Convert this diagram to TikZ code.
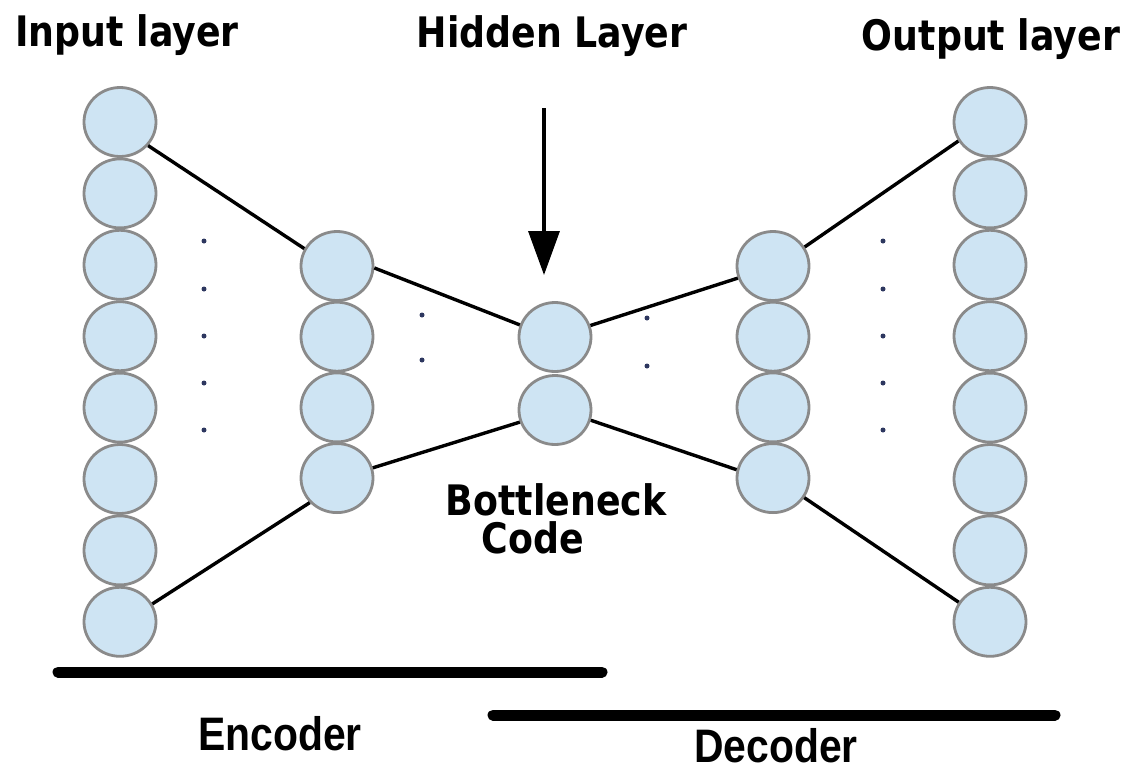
\documentclass[tikz,border=0pt]{standalone}
\usepackage{fontspec}
\usetikzlibrary{shapes.geometric,arrows.meta}
\newfontfamily\titlefont{DejaVu Sans}[FakeStretch=0.865]
\newfontfamily\partfont{Liberation Sans}[FakeStretch=0.87]
\definecolor{unitfill}{RGB}{206,228,243}
\definecolor{unitdraw}{RGB}{138,138,138}
\definecolor{dotcol}{RGB}{45,55,95}
\tikzset{
  unit/.style={ellipse, draw=unitdraw, fill=unitfill, line width=2.8pt,
    minimum width=72pt, minimum height=69pt, inner sep=0pt},
  link/.style={line width=3.4pt, black},
  gapdot/.style={fill=dotcol, draw=none},
  title/.style={font=\titlefont\bfseries\fontsize{42}{46}\selectfont, anchor=base, inner sep=0pt},
  part/.style={font=\partfont\bfseries\fontsize{47}{50}\selectfont, anchor=base, inner sep=0pt},
  partbar/.style={line width=11pt, line cap=round, black}
}
\begin{document}
\begin{tikzpicture}[x=1pt,y=-1pt]
\useasboundingbox (0,0) rectangle (1136,769);

% input and output layers: eight units each
\foreach \i in {1,...,8} {
  \node[unit] (in\i)  at (120,{122+71.4*(\i-1)}) {};
  \node[unit] (out\i) at (990,{122+71.4*(\i-1)}) {};
}
% encoder and decoder hidden layers: four units each
\foreach \i in {1,...,4} {
  \node[unit] (h\i) at (337,{266+70.7*(\i-1)}) {};
  \node[unit] (d\i) at (773,{266+70.7*(\i-1)}) {};
}
% bottleneck code
\node[unit] (b1) at (555,337) {};
\node[unit] (b2) at (555,410) {};

% outer connections
\draw[link] (in1.-40) -- (h1.152);
\draw[link] (in8.29) -- (h4.222);
\draw[link] (h1.-3) -- (b1.161);
\draw[link] (h4.16) -- (b2.199);
\draw[link] (b1.18) -- (d1.199);
\draw[link] (b2.-16) -- (d4.167);
\draw[link] (d1.31) -- (out1.211);
\draw[link] (d4.-32) -- (out8.148);

% dots for the omitted connections
\foreach \y in {241,289,336,383,430} {
  \fill[gapdot] (204,\y) circle (2.5pt);
  \fill[gapdot] (883,\y) circle (2.5pt);
}
\foreach \y in {315,360} \fill[gapdot] (422,\y) circle (2.5pt);
\foreach \y in {318,366} \fill[gapdot] (647,\y) circle (2.5pt);

% layer titles
\node[title] (tin)  at (127,46) {Input layer};
\node[title] (thid) at (552,47) {Hidden Layer};
\node[title] (tout) at (991,50) {Output layer};
\node[title] (bneck) at (556,515) {Bottleneck};
\node[title] (bcode) at (533,553) {Code};

% pointer to the hidden layer
\coordinate (ptop) at (544,108);
\coordinate (ptip) at (544,275);
\draw[line width=3.4pt, -{Triangle[length=44pt,width=31pt]}] (ptop) -- (ptip);

% encoder / decoder spans
\coordinate (encL) at (58,672);
\coordinate (encR) at (602,672);
\coordinate (decL) at (493,715);
\coordinate (decR) at (1055,715);
\draw[partbar] (encL) -- (encR);
\draw[partbar] (decL) -- (decR);
\node[part] (enc) at (280,750) {Encoder};
\node[part] (dec) at (776,762) {Decoder};
\end{tikzpicture}
\end{document}
